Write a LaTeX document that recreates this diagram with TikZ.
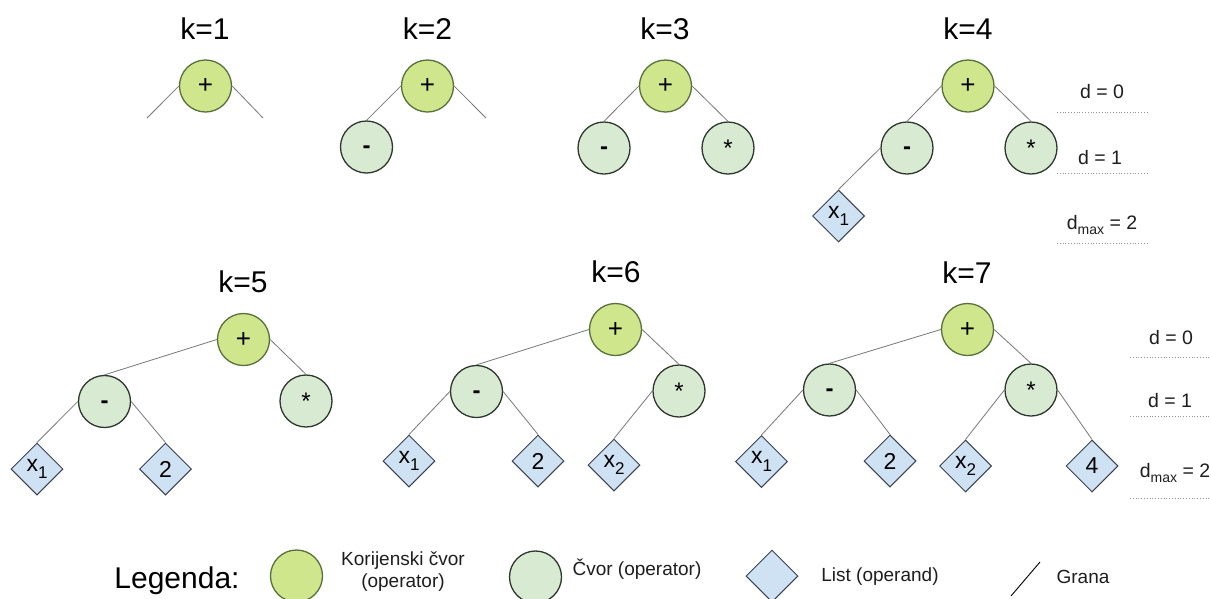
\documentclass[tikz,border=0pt]{standalone}
\usepackage{fontspec}
\setmainfont{Liberation Sans}
\usetikzlibrary{shapes.geometric}
\definecolor{rootfill}{RGB}{207,230,140}
\definecolor{rootborder}{RGB}{88,112,58}
\definecolor{opfill}{RGB}{217,234,211}
\definecolor{opborder}{RGB}{45,55,45}
\definecolor{leaffill}{RGB}{207,226,243}
\definecolor{leafborder}{RGB}{60,64,80}
\definecolor{edgecol}{RGB}{120,120,120}
\definecolor{dotcol}{RGB}{150,150,150}
\definecolor{txtcol}{RGB}{30,30,30}
\newcommand{\subone}[1]{\raisebox{-0.32em}{\fontsize{17}{17}\selectfont #1}}
\newcommand{\dmaxlbl}{d\raisebox{-0.3em}{\fontsize{14}{14}\selectfont max} = 2}
\newcommand{\minussym}{\smash{\raisebox{-6.5pt}{\textbf{-}}}}
\tikzset{
  rootnode/.style={circle, draw=rootborder, fill=rootfill, line width=1.3pt, minimum size=52pt, inner sep=0pt, font=\fontsize{26}{26}\selectfont},
  opnode/.style={circle, draw=opborder, fill=opfill, line width=1.3pt, minimum size=52pt, inner sep=0pt, font=\fontsize{24}{24}\selectfont},
  leafnode/.style={diamond, draw=leafborder, fill=leaffill, line width=1pt, minimum width=52pt, minimum height=52pt, inner sep=0pt, font=\fontsize{23}{23}\selectfont},
  edge/.style={draw=edgecol, line width=0.8pt},
  klabel/.style={anchor=base, inner sep=0pt, font=\fontsize{30}{30}\selectfont},
  dlabel/.style={inner sep=0pt, text=txtcol, font=\fontsize{19.5}{20}\selectfont},
  dline/.style={draw=dotcol, line width=0.8pt, dotted},
  legtext/.style={inner sep=0pt, text=txtcol, font=\fontsize{19}{20}\selectfont}
}
\begin{document}
\begin{tikzpicture}[x=1pt, y=-1pt]
\useasboundingbox (0,0) rectangle (1211,598);
\clip (0,0) rectangle (1211,598);
\fill[white] (0,0) rectangle (1211,598);

% ---------- k=1 ----------
\node[klabel] (k1) at (205,39) {k=1};
\node[rootnode] (a1) at (205.5,86) {+};
\coordinate (a1l) at (147,118);
\coordinate (a1r) at (263,118);
\draw[edge] (a1.west) -- (a1l);
\draw[edge] (a1.east) -- (a1r);

% ---------- k=2 ----------
\node[klabel] (k2) at (427.5,39) {k=2};
\node[rootnode] (b1) at (427.5,86) {+};
\node[opnode] (b2) at (366.5,147) {\minussym};
\coordinate (b1r) at (486,118);
\draw[edge] (b1.west) -- (b2.north);
\draw[edge] (b1.east) -- (b1r);

% ---------- k=3 ----------
\node[klabel] (k3) at (665,39) {k=3};
\node[rootnode] (c1) at (665.5,86) {+};
\node[opnode] (c2) at (604,148) {\minussym};
\node[opnode] (c3) at (728,148) {*};
\draw[edge] (c1.west) -- (c2.north);
\draw[edge] (c1.east) -- (c3.north);

% ---------- k=4 ----------
\node[klabel] (k4) at (968,39) {k=4};
\node[rootnode] (e1) at (968,86) {+};
\node[opnode] (e2) at (907,148) {\minussym};
\node[opnode] (e3) at (1031,148) {*};
\node[leafnode] (e4) at (838.5,216) {x\subone{1}};
\draw[edge] (e1.west) -- (e2.north);
\draw[edge] (e1.east) -- (e3.north);
\draw[edge] (e2.west) -- (e4.north);

\node[dlabel] (d0a) at (1102,92) {d = 0};
\node[dlabel] (d1a) at (1100,158) {d = 1};
\node[dlabel] (d2a) at (1102,225) {\dmaxlbl};
\coordinate (d0al) at (1057,112); \coordinate (d0ar) at (1148,112);
\coordinate (d1al) at (1057,173); \coordinate (d1ar) at (1148,173);
\coordinate (d2al) at (1057,243); \coordinate (d2ar) at (1148,243);
\draw[dline] (d0al) -- (d0ar);
\draw[dline] (d1al) -- (d1ar);
\draw[dline] (d2al) -- (d2ar);

% ---------- k=5 ----------
\node[klabel] (k5) at (243,292) {k=5};
\node[rootnode] (f1) at (243.5,339.5) {+};
\node[opnode] (f2) at (104.5,401.5) {\minussym};
\node[opnode] (f3) at (306,401) {*};
\node[leafnode] (f4) at (37,469) {x\subone{1}};
\node[leafnode] (f5) at (165.5,469) {2};
\draw[edge] (f1.west) -- (f2.north);
\draw[edge] (f1.east) -- (f3.north);
\draw[edge] (f2.west) -- (f4.north);
\draw[edge] (f2.east) -- (f5.north);

% ---------- k=6 ----------
\node[klabel] (k6) at (616,282) {k=6};
\node[rootnode] (g1) at (615.5,329.5) {+};
\node[opnode] (g2) at (476.5,391.5) {\minussym};
\node[opnode] (g3) at (679,391) {*};
\node[leafnode] (g4) at (409,461) {x\subone{1}};
\node[leafnode] (g5) at (538,461) {2};
\node[leafnode] (g6) at (614,465) {x\subone{2}};
\draw[edge] (g1.west) -- (g2.north);
\draw[edge] (g1.east) -- (g3.north);
\draw[edge] (g2.west) -- (g4.north);
\draw[edge] (g2.east) -- (g5.north);
\draw[edge] (g3.west) -- (g6.north);

% ---------- k=7 ----------
\node[klabel] (k7) at (967,283) {k=7};
\node[rootnode] (h1) at (967.5,329.5) {+};
\node[opnode] (h2) at (829.5,390) {\minussym};
\node[opnode] (h3) at (1031,390) {*};
\node[leafnode] (h4) at (761.5,461.5) {x\subone{1}};
\node[leafnode] (h5) at (890,461) {2};
\node[leafnode] (h6) at (965.5,466) {x\subone{2}};
\node[leafnode] (h7) at (1092,466) {4};
\draw[edge] (h1.west) -- (h2.north);
\draw[edge] (h1.east) -- (h3.north);
\draw[edge] (h2.west) -- (h4.north);
\draw[edge] (h2.east) -- (h5.north);
\draw[edge] (h3.west) -- (h6.north);
\draw[edge] (h3.east) -- (h7.north);

\node[dlabel] (d0b) at (1171,338) {d = 0};
\node[dlabel] (d1b) at (1170,401) {d = 1};
\node[dlabel] (d2b) at (1175,473) {\dmaxlbl};
\coordinate (d0bl) at (1130,357); \coordinate (d0br) at (1211,357);
\coordinate (d1bl) at (1130,416); \coordinate (d1br) at (1211,416);
\coordinate (d2bl) at (1130,498); \coordinate (d2br) at (1211,498);
\draw[dline] (d0bl) -- (d0br);
\draw[dline] (d1bl) -- (d1br);
\draw[dline] (d2bl) -- (d2br);

% ---------- legend ----------
\node[anchor=base, inner sep=0pt, font=\fontsize{30}{30}\selectfont] (leg) at (177,588) {Legenda:};
\node[rootnode] (lg1) at (296.5,576) {};
\node[legtext] (lt1a) at (403,561) {Korijenski čvor};
\node[legtext] (lt1b) at (403,583) {(operator)};
\node[opnode] (lg2) at (535.5,577) {};
\node[legtext] (lt2) at (637,569) {Čvor (operator)};
\node[leafnode] (lg3) at (772,576) {};
\node[legtext] (lt3) at (880,577) {List (operand)};
\coordinate (gs) at (1011,596);
\coordinate (ge) at (1040,562);
\draw[draw=black, line width=0.9pt] (gs) -- (ge);
\node[legtext] (lt4) at (1083,577) {Grana};
\end{tikzpicture}
\end{document}
